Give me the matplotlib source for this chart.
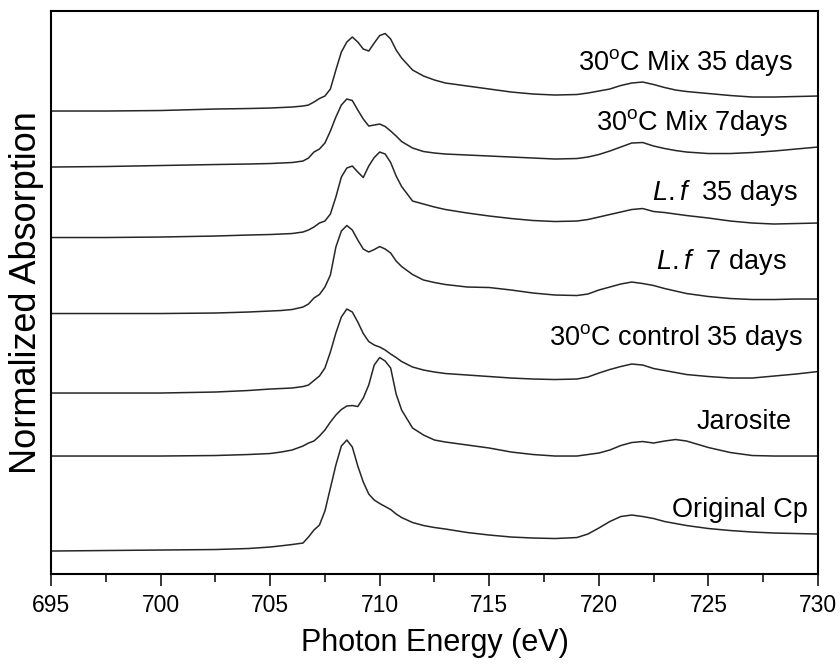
import matplotlib
matplotlib.use("Agg")
import matplotlib.pyplot as plt
from matplotlib.ticker import MultipleLocator

plt.rcParams['font.family'] = ['Liberation Sans', 'DejaVu Sans']
plt.rcParams['mathtext.fontset'] = 'custom'
plt.rcParams['mathtext.rm'] = 'Liberation Sans'
plt.rcParams['mathtext.it'] = 'Liberation Sans:italic'

# photon energy grid (eV)
energy = [695, 697.5, 700, 702.5, 704, 705, 705.5, 706, 706.5, 706.75,
          707, 707.25, 707.5, 707.75, 708, 708.25, 708.5, 708.75, 709, 709.25,
          709.5, 709.75, 710, 710.25, 710.5, 710.75, 711, 711.5, 712, 712.5,
          713, 714, 715, 716, 717, 718, 719, 719.5, 720, 720.5,
          721, 721.5, 722, 722.5, 723, 723.5, 724, 725, 726, 727,
          728, 729, 730]

# stacked (offset) normalized absorption, top to bottom
mix_35d = [4.63, 4.63, 4.635, 4.65, 4.655, 4.66, 4.665, 4.67, 4.68, 4.69,
           4.72, 4.755, 4.78, 4.85, 5.04, 5.22, 5.32, 5.37, 5.32, 5.25,
           5.23, 5.31, 5.385, 5.405, 5.35, 5.24, 5.16, 5.04, 4.98, 4.94,
           4.91, 4.88, 4.85, 4.82, 4.80, 4.79, 4.795, 4.81, 4.83, 4.85,
           4.885, 4.91, 4.92, 4.895, 4.865, 4.84, 4.825, 4.805, 4.785, 4.77,
           4.77, 4.775, 4.78]
mix_7d = [4.07, 4.075, 4.085, 4.095, 4.10, 4.105, 4.11, 4.115, 4.13, 4.16,
          4.22, 4.25, 4.31, 4.43, 4.57, 4.69, 4.75, 4.735, 4.64, 4.55,
          4.48, 4.49, 4.50, 4.475, 4.43, 4.38, 4.325, 4.26, 4.225, 4.21,
          4.20, 4.19, 4.18, 4.17, 4.16, 4.15, 4.155, 4.17, 4.195, 4.23,
          4.27, 4.31, 4.315, 4.28, 4.255, 4.235, 4.22, 4.205, 4.205, 4.215,
          4.23, 4.25, 4.27]
lf_35d = [3.365, 3.365, 3.37, 3.38, 3.39, 3.395, 3.40, 3.405, 3.42, 3.44,
          3.47, 3.51, 3.53, 3.60, 3.77, 3.97, 4.06, 4.08, 4.02, 3.965,
          4.08, 4.165, 4.22, 4.20, 4.115, 3.98, 3.875, 3.73, 3.70, 3.67,
          3.645, 3.61, 3.58, 3.555, 3.535, 3.525, 3.53, 3.545, 3.57, 3.595,
          3.62, 3.645, 3.655, 3.625, 3.615, 3.60, 3.585, 3.56, 3.53, 3.51,
          3.50, 3.505, 3.51]
lf_7d = [2.605, 2.605, 2.605, 2.61, 2.62, 2.63, 2.635, 2.645, 2.67, 2.70,
         2.76, 2.795, 2.87, 2.99, 3.27, 3.43, 3.485, 3.44, 3.34, 3.25,
         3.22, 3.245, 3.275, 3.25, 3.21, 3.13, 3.075, 2.995, 2.94, 2.915,
         2.895, 2.87, 2.865, 2.84, 2.81, 2.79, 2.785, 2.80, 2.84, 2.87,
         2.90, 2.92, 2.905, 2.885, 2.855, 2.83, 2.805, 2.775, 2.755, 2.745,
         2.745, 2.75, 2.75]
control_35d = [1.81, 1.81, 1.81, 1.82, 1.835, 1.85, 1.855, 1.86, 1.875, 1.89,
               1.935, 1.98, 2.06, 2.22, 2.41, 2.57, 2.65, 2.62, 2.52, 2.405,
               2.325, 2.29, 2.27, 2.24, 2.20, 2.165, 2.125, 2.07, 2.04, 2.02,
               2.005, 1.99, 1.975, 1.96, 1.95, 1.945, 1.95, 1.97, 2.01, 2.045,
               2.075, 2.10, 2.09, 2.055, 2.035, 2.015, 1.995, 1.975, 1.96, 1.96,
               1.98, 2.00, 2.025]
jarosite = [1.18, 1.18, 1.18, 1.185, 1.195, 1.205, 1.22, 1.24, 1.28, 1.31,
            1.33, 1.38, 1.44, 1.52, 1.59, 1.645, 1.68, 1.685, 1.675, 1.76,
            1.89, 2.09, 2.165, 2.13, 2.06, 1.80, 1.64, 1.46, 1.39, 1.34,
            1.32, 1.29, 1.26, 1.22, 1.195, 1.18, 1.18, 1.195, 1.21, 1.24,
            1.285, 1.315, 1.325, 1.31, 1.33, 1.345, 1.33, 1.265, 1.215, 1.185,
            1.18, 1.18, 1.18]
original_cp = [0.23, 0.235, 0.24, 0.245, 0.255, 0.27, 0.282, 0.295, 0.31, 0.37,
               0.44, 0.49, 0.63, 0.86, 1.09, 1.28, 1.34, 1.27, 1.08, 0.92,
               0.80, 0.74, 0.705, 0.675, 0.645, 0.60, 0.565, 0.515, 0.485, 0.465,
               0.45, 0.415, 0.39, 0.37, 0.36, 0.355, 0.365, 0.40, 0.46, 0.525,
               0.575, 0.59, 0.575, 0.555, 0.525, 0.505, 0.485, 0.455, 0.435, 0.42,
               0.41, 0.405, 0.40]

series = [mix_35d, mix_7d, lf_35d, lf_7d, control_35d, jarosite, original_cp]
labels = [r"30$^\mathregular{o}$C Mix 35 days",
          r"30$^\mathregular{o}$C Mix 7days",
          r"$\mathit{L.f}$  35 days",
          r"$\mathit{L.f}$  7 days",
          r"30$^\mathregular{o}$C control 35 days",
          "Jarosite",
          "Original Cp"]
# label anchor (right edge) in data coords
label_x = [728.86, 728.63, 729.09, 728.59, 729.32, 728.81, 729.54]
label_y = [5.12, 4.52, 3.81, 3.12, 2.37, 1.52, 0.64]

fig = plt.figure(figsize=(8.4, 6.64), dpi=100)
ax = fig.add_axes([0.0607, 0.1355, 0.9131, 0.8479])

for y in series:
    ax.plot(energy, y, color='#262626', linewidth=1.1)

for txt, lx, ly in zip(labels, label_x, label_y):
    ax.text(lx, ly, txt, ha='right', va='center', fontsize=19.5)

ax.set_xlim(695, 730)
ax.set_ylim(0, 5.63)
ax.xaxis.set_major_locator(MultipleLocator(5))
ax.xaxis.set_minor_locator(MultipleLocator(2.5))
ax.tick_params(axis='x', which='major', direction='out', length=8.5, width=1.1,
               labelsize=16.5, pad=6)
ax.tick_params(axis='x', which='minor', direction='out', length=5.5, width=1.1)
ax.set_yticks([])
for sp in ax.spines.values():
    sp.set_linewidth(1.5)

ax.set_xlabel("Photon Energy (eV)", fontsize=22, labelpad=8)
ax.set_ylabel("Normalized Absorption", fontsize=26, labelpad=5)

fig.savefig("out.png", dpi=100)
